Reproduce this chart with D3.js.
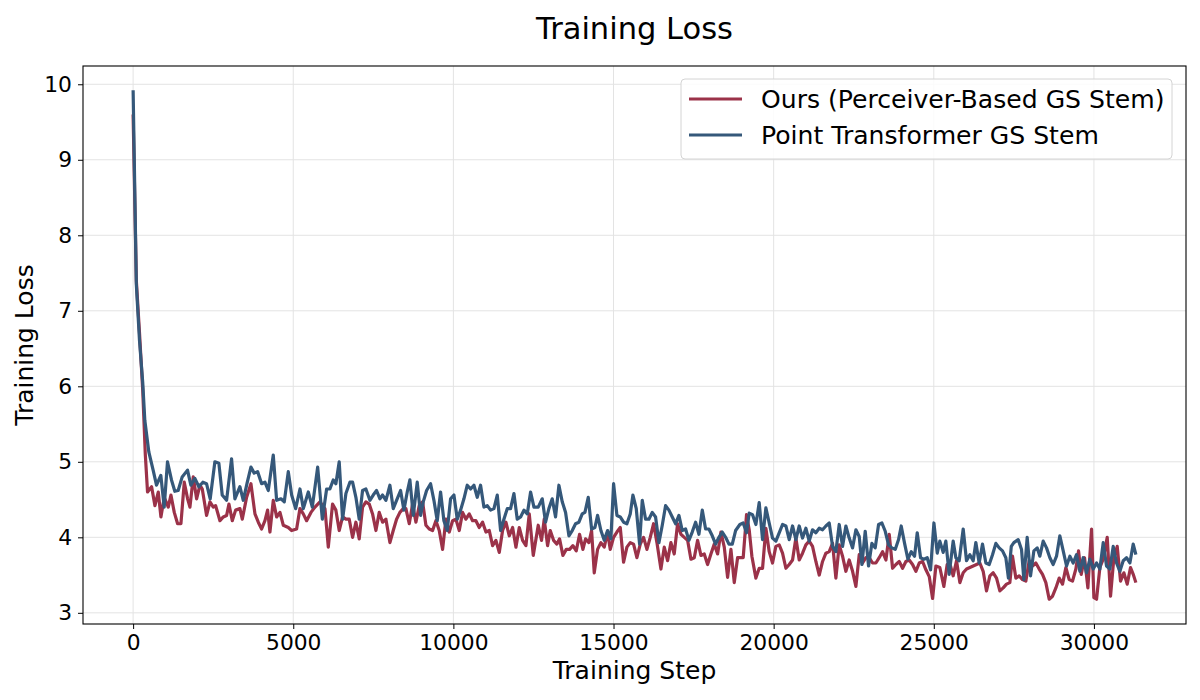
<!DOCTYPE html>
<html><head><meta charset="utf-8">
<script src="https://cdn.jsdelivr.net/npm/d3@7"></script>
<style>body{margin:0;background:#fff;} text{font-family:"DejaVu Sans",sans-serif;fill:#000;}</style>
</head><body><svg id="c" width="1200" height="700"></svg>
<script>
const seriesNames = ["Ours (Perceiver-Based GS Stem)", "Point Transformer GS Stem"];
const seriesColors = ["#9b3249", "#35587a"];

const oursSteps = [0,100,200,300,380,450,577,681,785,868,972,1097,1181,1285,1389,1493,1597,1701,1774,1878,1982,2086,2159,2294,2399,2503,2576,2711,2815,2919,2992,3096,3200,3335,3408,3544,3679,3804,3908,4012,4116,4199,4272,4376,4481,4585,4689,4845,4949,5105,5209,5313,5417,5553,5678,5834,5990,6094,
6227,6331,6435,6540,6644,6748,6852,6956,7060,7164,7268,7372,7476,7581,7685,7789,7893,8018,8122,8226,8330,8434,8517,8622,8726,8830,8934,9038,9142,9246,9350,9454,9558,9663,9767,9871,9975,10079,10183,10287,10391,10495,10599,10703,10807,10912,11016,11120,11224,11328,11432,11536,11640,11745,11849,11953,12057,12161,12265,12369,12494,
12649,12753,12836,12941,13024,13128,13232,13315,13419,13524,13628,13732,13836,13940,14044,14127,14231,14315,14398,14502,14606,14710,14814,14898,15002,15106,15210,15314,15418,15522,15626,15730,15835,15939,16043,16147,16251,16355,16480,16584,16688,16792,16896,17000,17105,17209,17313,17417,17521,17625,17729,17833,17937,18041,18146,18250,18354,18458,18562,18666,18770,18874,
18945,19049,19153,19236,19320,19445,19549,19653,19757,19861,19965,20069,20173,20277,20382,20486,20590,20694,20798,20902,21006,21110,21214,21318,21423,21527,21631,21735,21839,21943,22047,22151,22255,22359,22464,22568,22672,22776,22880,22984,23088,23192,23296,23400,23505,23609,23713,23817,23921,24025,24129,24233,24337,24441,24546,24650,24754,24858,24962,25066,
25189,25314,25418,25522,25605,25710,25814,25918,26022,26126,26230,26334,26438,26542,26646,26751,26855,26959,27063,27167,27271,27375,27458,27562,27666,27771,27875,27979,28083,28187,28291,28395,28499,28603,28707,28812,28916,29020,29124,29228,29332,29436,29520,29603,29707,29811,29926,29999,30082,30186,30290,30415,30519,30623,30727,30831,30935,31039,31143,31227,31310];
const oursLoss = [9.6,7.4,6.7,5.95,5.1,4.6,4.67,4.42,4.6,4.27,4.53,4.4,4.56,4.33,4.18,4.18,4.73,4.51,4.4,4.8,4.51,4.69,4.64,4.29,4.47,4.4,4.42,4.22,4.27,4.29,4.44,4.22,4.36,4.38,4.24,4.53,4.71,4.31,4.2,4.11,4.22,4.36,4.07,4.49,4.27,4.33,4.16,4.13,4.09,4.11,4.38,4.31,4.22,4.33,4.4,4.47,4.38,3.87,
4.44,4.36,4.09,4.27,4.24,4.24,4.0,4.2,3.98,4.4,4.47,4.44,4.31,4.09,4.33,4.2,4.24,3.93,4.09,4.24,4.33,4.38,4.38,4.18,4.44,4.2,4.42,4.47,4.16,4.11,4.09,4.22,4.09,3.84,4.24,4.07,4.22,4.24,4.09,4.33,4.24,4.31,4.22,4.22,4.13,4.2,4.07,4.09,3.89,3.96,3.8,4.09,4.2,4.02,4.13,3.87,4.13,3.96,3.89,4.31,3.76,
4.16,3.96,4.24,3.89,4.09,3.96,3.91,3.98,3.76,3.84,3.84,3.89,3.82,4.04,3.84,3.98,3.93,4.09,3.53,3.84,3.93,3.87,4.07,3.84,4.0,4.07,4.13,3.67,3.87,3.93,3.91,3.73,3.91,4.0,3.84,4.0,4.18,3.93,3.58,3.87,3.69,3.93,3.78,4.18,4.04,4.0,3.96,3.71,3.73,3.96,3.76,3.78,3.64,3.78,3.91,3.78,4.07,3.87,3.47,3.84,3.4,3.73,
3.73,3.73,4.3,4.1,3.75,3.46,3.59,3.59,4.12,3.81,3.66,3.88,3.9,3.79,3.59,3.64,3.7,3.99,3.7,3.79,3.9,3.95,3.88,3.68,3.5,3.68,3.79,3.81,3.92,3.46,3.9,3.75,3.55,3.7,3.55,3.35,3.77,3.66,3.73,3.73,3.66,3.66,3.73,3.81,3.7,4.04,3.59,3.64,3.68,3.59,3.68,3.7,3.64,3.55,3.66,3.68,3.57,3.48,3.19,3.62,
3.6,3.35,3.64,3.62,3.49,3.69,3.4,3.53,3.58,3.6,3.62,3.64,3.66,3.55,3.29,3.49,3.53,3.46,3.29,3.33,3.38,3.4,3.75,3.46,3.49,3.44,3.42,3.69,3.62,3.66,3.58,3.51,3.4,3.18,3.22,3.33,3.46,3.38,3.6,3.44,3.42,3.58,3.82,3.51,3.73,3.33,4.11,3.2,3.18,3.6,3.71,4.0,3.22,3.73,3.88,3.42,3.53,3.38,3.6,3.51,3.4];

const ptSteps = [0,100,200,300,365,490,625,730,865,970,1073,1198,1302,1407,1532,1698,1803,1928,2053,2178,2292,2407,2553,2678,2782,2918,3074,3178,3334,3439,3560,3678,3780,3887,4012,4116,4220,4376,4481,4616,4720,4845,4950,5075,5210,5314,5470,5595,5762,5908,6042,
6144,6248,6331,6435,6540,6644,6769,6852,6956,7060,7164,7268,7393,7497,7601,7706,7789,7893,8018,8122,8226,8351,8455,8559,8642,8747,8871,8976,9059,9163,9288,9392,9496,9600,9704,9808,9912,10017,10121,10225,10329,10433,10537,10641,10745,10849,10953,11058,11162,11266,11370,11474,11578,11682,11786,11890,11994,12099,12203,12307,12411,12515,
12649,12774,12878,12982,13086,13190,13295,13399,13503,13607,13711,13815,13919,14023,14107,14211,14315,14419,14502,14606,14710,14814,14918,15002,15106,15210,15314,15418,15522,15606,15710,15814,15897,16001,16105,16209,16313,16418,16522,16626,16730,16834,16938,17042,17146,17250,17354,17458,17563,17667,17771,17875,17979,18083,18187,18291,18395,18500,18604,18708,18812,
18945,19049,19153,19236,19341,19445,19549,19653,19757,19861,19965,20069,20173,20277,20382,20486,20590,20694,20798,20902,21006,21110,21214,21318,21423,21527,21631,21735,21839,21943,22047,22151,22255,22359,22464,22568,22672,22755,22859,22963,23067,23171,23276,23380,23484,23588,23692,23796,23900,23983,24088,24192,24296,24400,24483,24587,24691,24795,24900,25004,25108,
25189,25293,25376,25480,25605,25689,25793,25918,26022,26126,26230,26313,26417,26521,26626,26730,26834,26938,27042,27146,27250,27330,27420,27500,27635,27739,27812,27916,28021,28125,28229,28312,28416,28520,28624,28728,28832,28936,29041,29145,29249,29353,29457,29561,29665,29769,29874,29978,30082,30186,30290,30394,30498,30602,30706,30810,30915,31019,31123,31227,31310];
const ptLoss = [9.92,7.35,6.6,6.05,5.55,5.13,4.89,4.69,4.82,4.4,5.0,4.76,4.61,4.62,4.8,4.89,4.69,4.78,4.67,4.73,4.71,4.51,5.0,4.98,4.56,4.49,5.04,4.51,4.67,4.49,4.72,4.93,4.85,4.87,4.71,4.73,4.62,5.09,4.49,4.51,4.47,4.87,4.56,4.38,4.64,4.38,4.6,4.4,4.93,4.24,4.64,
4.64,4.76,4.71,5.0,4.24,4.58,4.73,4.73,4.53,4.24,4.62,4.64,4.49,4.56,4.62,4.51,4.56,4.49,4.69,4.38,4.49,4.62,4.36,4.6,4.76,4.29,4.73,4.29,4.47,4.62,4.71,4.49,4.22,4.6,4.22,4.09,4.51,4.56,4.24,4.36,4.51,4.69,4.64,4.69,4.53,4.69,4.4,4.42,4.36,4.38,4.56,4.09,4.24,4.38,4.38,4.58,4.24,4.27,4.36,4.31,4.6,4.4,
4.4,4.51,4.2,4.38,4.51,4.27,4.69,4.47,4.33,4.02,4.09,4.18,4.2,4.31,4.33,4.53,4.11,4.13,4.29,4.09,3.96,4.09,3.98,4.71,4.29,4.27,4.2,4.18,4.31,4.56,4.38,3.91,4.49,4.24,4.24,4.33,4.27,3.93,4.16,4.42,4.36,4.27,4.18,4.29,4.09,4.11,3.96,4.07,4.2,4.04,4.36,4.11,4.11,4.02,3.91,4.0,4.07,4.0,3.91,3.91,4.09,
4.17,4.19,4.06,4.32,4.3,4.17,4.46,3.97,4.39,4.19,3.99,3.95,4.06,4.17,4.15,3.97,4.15,3.97,4.15,3.99,4.12,3.95,4.1,4.06,4.12,4.1,4.15,4.19,3.88,3.81,4.17,3.88,4.15,3.99,3.86,4.1,4.01,3.64,4.08,3.62,3.92,3.86,4.17,4.19,4.08,3.9,3.86,3.84,3.97,4.15,3.92,3.71,3.81,3.75,4.06,3.73,3.71,3.73,3.57,4.19,3.79,
3.95,3.8,3.95,3.51,3.95,3.73,3.69,4.11,3.69,3.77,3.69,3.93,3.66,3.91,3.66,3.64,3.77,3.92,3.86,3.82,3.73,3.46,3.88,3.93,3.97,3.84,3.44,4.0,3.49,3.82,3.86,3.75,3.95,3.86,3.73,3.64,3.75,4.02,3.82,3.62,3.75,3.66,3.77,3.55,3.73,3.53,3.71,3.58,3.66,3.58,3.93,3.62,3.58,3.88,3.66,3.55,3.69,3.73,3.66,3.91,3.77];

const xTicks = [0,5000,10000,15000,20000,25000,30000];
const yTicks = [3,4,5,6,7,8,9,10];
const titleText = "Training Loss";
const xLabel = "Training Step";
const yLabel = "Training Loss";

const W = 1200, H = 700;
const L = 83, R = 1186, T = 66, B = 624;
const svg = d3.select("#c");
svg.append("rect").attr("width", W).attr("height", H).attr("fill", "#fff");

const x = d3.scaleLinear().domain([-1565, 32875]).range([L, R]);
const y = d3.scaleLinear().domain([2.852, 10.242]).range([B, T]);

// grid
const grid = svg.append("g");
grid.selectAll(".gx").data(xTicks).enter().append("line")
  .attr("x1", d => x(d)).attr("x2", d => x(d)).attr("y1", T).attr("y2", B)
  .attr("stroke", "#e3e3e3").attr("stroke-width", 1);
grid.selectAll(".gy").data(yTicks).enter().append("line")
  .attr("x1", L).attr("x2", R).attr("y1", d => y(d)).attr("y2", d => y(d))
  .attr("stroke", "#e3e3e3").attr("stroke-width", 1);

// lines
const series = [
  {name: seriesNames[0], color: seriesColors[0], pts: oursSteps.map((s, i) => [s, oursLoss[i]])},
  {name: seriesNames[1], color: seriesColors[1], pts: ptSteps.map((s, i) => [s, ptLoss[i]])}
];
const line = d3.line().x(d => x(d[0])).y(d => y(d[1]));
svg.append("g").selectAll("path").data(series).enter().append("path")
  .attr("d", d => line(d.pts)).attr("fill", "none")
  .attr("stroke", d => d.color).attr("stroke-width", 3.2)
  .attr("stroke-linejoin", "round").attr("stroke-linecap", "butt");

// axes
const xAxis = d3.axisBottom(x).tickValues(xTicks).tickFormat(d3.format("d")).tickSize(5).tickPadding(6);
const yAxis = d3.axisLeft(y).tickValues(yTicks).tickFormat(d3.format("d")).tickSize(5).tickPadding(6);
const gx = svg.append("g").attr("transform", `translate(0,${B})`).call(xAxis);
const gy = svg.append("g").attr("transform", `translate(${L},0)`).call(yAxis);
[gx, gy].forEach(g => {
  g.select(".domain").remove();
  g.selectAll(".tick line").attr("stroke", "#000").attr("stroke-width", 1);
  g.selectAll(".tick text").attr("font-size", "21.8px").attr("font-family", "DejaVu Sans").attr("fill", "#000");
});

// frame
svg.append("rect").attr("x", L).attr("y", T).attr("width", R - L).attr("height", B - T)
  .attr("fill", "none").attr("stroke", "#000").attr("stroke-width", 1.1);

// title & labels
svg.append("text").attr("x", (L + R) / 2).attr("y", 39).attr("text-anchor", "middle")
  .attr("font-size", "30.5px").text(titleText);
svg.append("text").attr("x", (L + R) / 2).attr("y", 679).attr("text-anchor", "middle")
  .attr("font-size", "25px").text(xLabel);
svg.append("text").attr("transform", `translate(33,${(T + B) / 2}) rotate(-90)`).attr("text-anchor", "middle")
  .attr("font-size", "25px").text(yLabel);

// legend
const lg = svg.append("g");
lg.append("rect").attr("x", 681).attr("y", 79).attr("width", 491).attr("height", 80).attr("rx", 4)
  .attr("fill", "#fff").attr("fill-opacity", 0.85).attr("stroke", "#d4d4d4").attr("stroke-width", 1);
series.forEach((s, i) => {
  const yy = 99 + i * 36;
  lg.append("line").attr("x1", 689).attr("x2", 742).attr("y1", yy).attr("y2", yy)
    .attr("stroke", s.color).attr("stroke-width", 3.2);
  lg.append("text").attr("x", 761).attr("y", yy).attr("dy", "0.35em")
    .attr("font-size", "25.1px").text(s.name);
});
</script></body></html>
